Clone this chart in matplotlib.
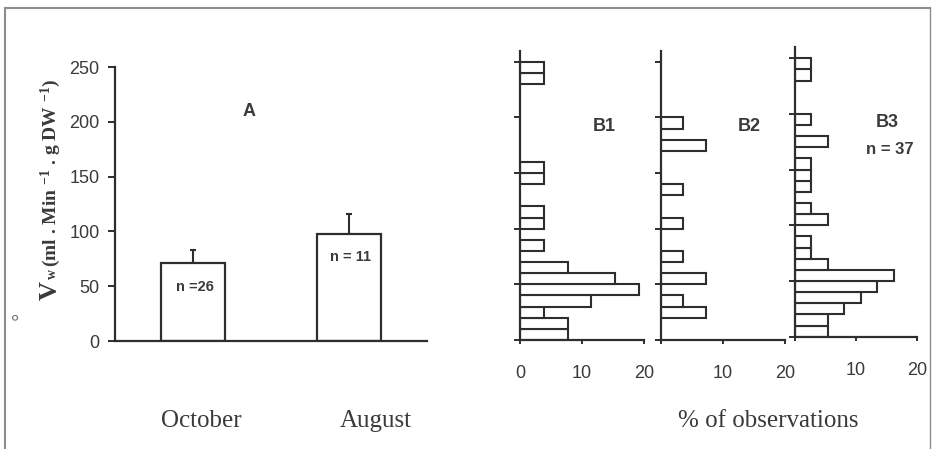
import numpy as np
import matplotlib.pyplot as plt
from matplotlib.lines import Line2D

plt.rcParams['font.family'] = 'Liberation Sans'
plt.rcParams['mathtext.fontset'] = 'custom'
plt.rcParams['mathtext.rm'] = 'Liberation Serif:bold'
plt.rcParams['mathtext.it'] = 'Liberation Serif:bold'
plt.rcParams['mathtext.bf'] = 'Liberation Serif:bold'

# panel A: mean water flow per month
months = ['October', 'August']
mean_vw = [71, 98]
err_vw = [12, 18]
n_labels = ['n =26', 'n = 11']

# panels B: distribution, % of observations per 10-unit class
bin_lo = [0, 10, 20, 30, 40, 50, 60, 70, 80, 90, 100, 110, 120, 130, 140,
          150, 160, 170, 180, 190, 200, 210, 220, 230, 240]
pct_b1 = [7.7, 7.7, 3.8, 11.5, 19.2, 15.4, 7.7, 0, 3.8, 0, 3.8, 3.8, 0, 0,
          3.8, 3.8, 0, 0, 0, 0, 0, 0, 0, 3.8, 3.8]
pct_b2 = [0, 0, 7.3, 3.6, 0, 7.3, 0, 3.6, 0, 0, 3.6, 0, 0, 3.6, 0,
          0, 0, 7.3, 0, 3.6, 0, 0, 0, 0, 0]
pct_b3 = [5.4, 5.4, 8.1, 10.8, 13.5, 16.2, 5.4, 2.7, 2.7, 0, 5.4, 2.7, 0, 2.7,
          2.7, 2.7, 0, 5.4, 0, 2.7, 0, 0, 0, 2.7, 2.7]

W, H = 936, 449
ink = '#2e2e2e'
txt = '#3a3a3a'

def fx(px):
    return px / W

def fy(py):
    return 1 - py / H

fig = plt.figure(figsize=(W / 100, H / 100), dpi=100)

# ---- panel A
axA = fig.add_axes([fx(115), fy(341), 312 / W, 274 / H])
x = np.arange(len(months))
axA.bar(x, mean_vw, width=0.41, color='white', edgecolor=ink, linewidth=1.6, zorder=2)
axA.errorbar(x, mean_vw, yerr=[[0, 0], err_vw], fmt='none', ecolor=ink,
             elinewidth=1.5, capsize=2.5, capthick=1.5, zorder=1)
axA.set_xlim(-0.5, 1.5)
axA.set_ylim(0, 250)
axA.set_yticks([0, 50, 100, 150, 200, 250])
axA.set_xticks([])
for s in ['top', 'right']:
    axA.spines[s].set_visible(False)
for s in ['left', 'bottom']:
    axA.spines[s].set_linewidth(1.6)
    axA.spines[s].set_color(ink)
axA.tick_params(axis='y', direction='out', length=5, width=1.4, color=ink,
                labelsize=13, labelcolor=txt, pad=6)
axA.text(0.43, 0.836, 'A', transform=axA.transAxes, ha='center', va='center',
         fontsize=13, fontweight='bold', color=txt)
for xi, m, lab in zip(x, mean_vw, n_labels):
    axA.text(xi + 0.01, m - 21.5, lab, ha='center', va='center',
             fontsize=10.5, fontweight='bold', color=txt)

# month labels
fig.text(fx(201), fy(421), months[0], ha='center', va='center',
         family='Liberation Serif', fontsize=18, color=txt)
fig.text(fx(376), fy(421), months[1], ha='center', va='center',
         family='Liberation Serif', fontsize=18, color=txt)

# y label: V-dot w (ml . Min-1 . g DW-1)
fig.text(fx(57), fy(300), 'V', rotation=90, rotation_mode='anchor',
         ha='left', va='baseline', family='Liberation Serif', fontweight='bold',
         fontsize=19, color=txt)
fig.text(fx(56), fy(279), 'w', rotation=90, rotation_mode='anchor',
         ha='left', va='baseline', family='Liberation Serif', fontweight='bold',
         fontsize=10, color=txt)
fig.text(fx(56), fy(267), r'(ml . Min $^{-1}$ . g DW $^{-1}$)', rotation=90,
         rotation_mode='anchor', ha='left', va='baseline',
         family='Liberation Serif', fontweight='bold', fontsize=14, color=txt)
fig.text(fx(21), fy(316), '°', rotation=90, ha='center', va='center',
         fontsize=15, color='#777777')

# ---- panels B
b_axes = [
    ('B1', pct_b1, [fx(520), fy(340), 124 / W, 289.4 / H], ['0', '10', '20'], 0.677),
    ('B2', pct_b2, [fx(660.7), fy(340), 124.3 / W, 289.4 / H], ['', '10', '20'], 0.71),
    ('B3', pct_b3, [fx(795), fy(336.7), 122 / W, 289.6 / H], ['', '10', '20'], 0.76),
]
for name, pct, rect, xlabs, lx in b_axes:
    ax = fig.add_axes(rect)
    lo = np.array(bin_lo)
    vals = np.array(pct)
    keep = vals > 0
    ax.barh(lo[keep], vals[keep], height=10, align='edge', color='white',
            edgecolor=ink, linewidth=1.5)
    ax.set_xlim(0, 20)
    ax.set_ylim(0, 260)
    ax.set_yticks([0, 50, 100, 150, 200, 250])
    ax.set_yticklabels([])
    ax.set_xticks([0, 10, 20])
    ax.set_xticklabels(xlabs)
    for s in ['top', 'right']:
        ax.spines[s].set_visible(False)
    for s in ['left', 'bottom']:
        ax.spines[s].set_linewidth(1.6)
        ax.spines[s].set_color(ink)
    ax.tick_params(axis='y', direction='out', length=4.5, width=1.4, color=ink)
    ax.tick_params(axis='x', direction='out', length=3, width=1.4, color=ink,
                   labelsize=13, labelcolor=txt, pad=15)
    ax.text(lx, 0.739, name, transform=ax.transAxes, ha='center', va='center',
            fontsize=13, fontweight='bold', color=txt)
    if name == 'B3':
        ax.text(0.78, 0.645, 'n = 37', transform=ax.transAxes, ha='center',
                va='center', fontsize=12, fontweight='bold', color=txt)

fig.text(fx(768), fy(421), '% of observations', ha='center', va='center',
         family='Liberation Serif', fontsize=18, color=txt)

# outer frame
frame_c = '#8c8c8c'
fig.add_artist(Line2D([fx(5), fx(930)], [fy(8), fy(8)], color=frame_c, lw=1.5))
fig.add_artist(Line2D([fx(5), fx(5)], [fy(8), 0], color=frame_c, lw=1.5))
fig.add_artist(Line2D([fx(930), fx(930)], [fy(8), 0], color=frame_c, lw=1.0))

fig.savefig('out.png', dpi=100, facecolor='white')
